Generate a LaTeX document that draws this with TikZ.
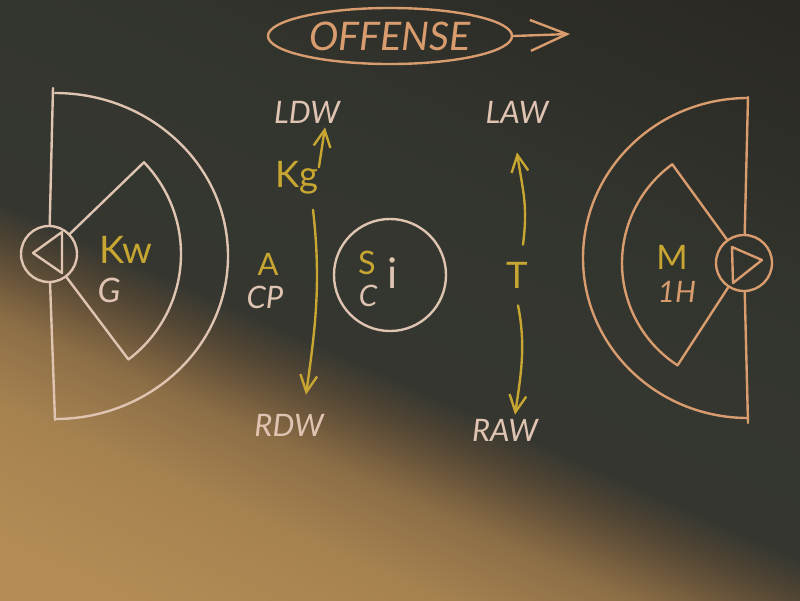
\documentclass[tikz,border=0pt]{standalone}
\usepackage{fontspec}
\setmainfont{Lato}
\usetikzlibrary{arrows.meta,positioning,calc,shapes.geometric}
\definecolor{boarddark}{HTML}{33362F}
\definecolor{boardtop}{HTML}{2A2823}
\definecolor{glowedge}{HTML}{353630}
\definecolor{glowdark}{HTML}{524634}
\definecolor{glowbrown}{HTML}{6E583C}
\definecolor{glowmid}{HTML}{8C6E46}
\definecolor{glowtan}{HTML}{A68250}
\definecolor{glowlight}{HTML}{B58C55}
\definecolor{chalkw}{HTML}{E0C4B2}
\definecolor{chalko}{HTML}{D99C6E}
\definecolor{chalky}{HTML}{C8A632}
\pgfdeclareverticalshading{board}{100bp}{color(0bp)=(glowlight); color(30bp)=(glowlight); color(37bp)=(glowtan); color(41bp)=(glowmid); color(42.8bp)=(glowbrown); color(44.4bp)=(glowdark); color(46.3bp)=(glowedge); color(56bp)=(boarddark); color(72bp)=(boardtop); color(100bp)=(boardtop)}

\begin{document}
\begin{tikzpicture}[
    x=0.025cm, y=-0.025cm,
    chalk/.style={line width=1.7pt, line cap=round, line join=round},
    lab/.style={inner sep=0pt, text=chalkw, font=\fontsize{22}{22}\selectfont\itshape},
    ylab/.style={inner sep=0pt, text=chalky, font=\fontsize{26}{26}\selectfont},
    goal/.style={chalk, draw, circle, minimum size=1.4cm, inner sep=0pt},
    move/.style={chalk, draw=chalky, -{Straight Barb[length=12pt, width=12pt]}}
  ]
  \useasboundingbox (0,0) rectangle (800,600);
  \begin{scope}
    \clip (0,0) rectangle (800,600);
    \shade[shading=board, shading angle=-24] (-100,-200) rectangle (900,800);
  \end{scope}

  \node[chalk, ellipse, draw=chalko, text=chalko, minimum width=6.1cm, minimum height=1.4cm, inner sep=0pt, font=\fontsize{28}{28}\selectfont\itshape] (offense) at (390,36) {OFFENSE};
  \coordinate (offtip) at (570,34);
  \draw[chalk, chalko, -{Straight Barb[length=26pt, width=22pt]}] (offense.east) -- (offtip);

  \node[goal, draw=chalkw] (lgoal) at (49,254) {};
  \coordinate (ltop) at (53,88);
  \coordinate (lbot) at (55,420);
  \draw[chalk, chalkw] (ltop) -- (lgoal);
  \draw[chalk, chalkw] (lgoal) -- (lbot);
  \draw[chalk, chalkw] (55,93) arc[start angle=-90, end angle=90, x radius=173, y radius=163];
  \draw[chalk, chalkw] (33,253) -- (62,232) -- (62,273) -- cycle;
  \draw[chalk, chalkw] ($(lgoal)+(-44:28)$) -- ($(lgoal)+(-44:132)$) arc[start angle=-44, end angle=53, radius=132] -- ($(lgoal)+(53:28)$);
  \node[ylab, font=\fontsize{27}{27}\selectfont] (kw) at (126,250) {Kw};
  \node[lab, font=\fontsize{24}{24}\selectfont\itshape] (g) at (109,290) {G};

  \node[goal, draw=chalko] (rgoal) at (744,263) {};
  \coordinate (rtop) at (748,97);
  \coordinate (rbot) at (748,423);
  \draw[chalk, chalko] (rtop) -- (rgoal);
  \draw[chalk, chalko] (rgoal) -- (rbot);
  \draw[chalk, chalko] (748,98) arc[start angle=-90, end angle=-270, x radius=165, y radius=160];
  \draw[chalk, chalko] (732,247) -- (762,260) -- (733,283) -- cycle;
  \draw[chalk, chalko] ($(rgoal)+(-126:28)$) -- ($(rgoal)+(-126:122)$) arc[start angle=-126, end angle=-237, radius=122] -- ($(rgoal)+(-237:28)$);
  \node[ylab, font=\fontsize{24}{24}\selectfont] (m) at (672,257) {M};
  \node[lab, text=chalko, font=\fontsize{21}{21}\selectfont\itshape] (oneh) at (677,292) {1H};

  \node[lab] (ldw) at (307,112) {LDW};
  \node[ylab] (kg) at (297,178) {Kg};
  \node[lab] (rdw) at (289,425) {RDW};
  \node[ylab, font=\fontsize{22}{22}\selectfont] (a) at (268,264) {A};
  \node[lab] (cp) at (265,297) {CP};
  \node[goal, draw=chalkw, minimum size=2.8cm] (ball) at (390,275) {};
  \node[ylab, font=\fontsize{23}{23}\selectfont] (s) at (367,263) {S};
  \node[lab, font=\fontsize{30}{30}\selectfont] (si) at (393,273) {i};
  \node[lab, font=\fontsize{21}{21}\selectfont\itshape] (c) at (368,296) {C};
  \node[lab] (law) at (517,112) {LAW};
  \node[ylab] (t) at (517,275) {T};
  \node[lab] (raw) at (505,430) {RAW};

  \draw[move] ($(kg.north east)+(0,6)$) -- ($(ldw.south)+(18,4)$);
  \draw[move] ($(kg.south)+(16,15)$) .. controls +(8,70) and +(10,-70) .. ($(rdw.north)+(17,-19)$);
  \draw[move] ($(t.north)+(6,-17)$) .. controls +(5,-40) and +(6,40) .. ($(law.south)+(0,29)$);
  \draw[move] ($(t.south)+(1,17)$) .. controls +(8,40) and +(6,-40) .. ($(raw.north)+(10,-4)$);
\end{tikzpicture}
\end{document}
